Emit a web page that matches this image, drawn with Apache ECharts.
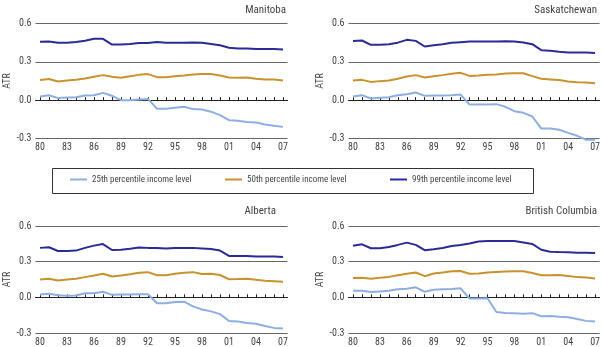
<!DOCTYPE html>
<html>
<head>
<meta charset="utf-8">
<script src="https://cdn.jsdelivr.net/npm/echarts@6/dist/echarts.min.js"></script>
<style>
html,body{margin:0;padding:0;background:#fff;}
#c{width:603px;height:347px;}
</style>
</head>
<body>
<div id="c"></div>
<script>
var years = [1980,1981,1982,1983,1984,1985,1986,1987,1988,1989,1990,1991,1992,1993,1994,1995,1996,1997,1998,1999,2000,2001,2002,2003,2004,2005,2006,2007];
var xTickLabels = [1980,1983,1986,1989,1992,1995,1998,2001,2004,2007];
var yTicks = [-0.3, 0.0, 0.3, 0.6];
var provinces = ['Manitoba','Saskatchewan','Alberta','British Columbia'];
var seriesNames = ['25th percentile income level','50th percentile income level','99th percentile income level'];

var manitoba25 = [0.029,0.039,0.016,0.021,0.023,0.037,0.039,0.057,0.034,0.000,0.000,0.005,0.010,-0.068,-0.068,-0.060,-0.052,-0.070,-0.073,-0.090,-0.117,-0.157,-0.162,-0.170,-0.175,-0.190,-0.200,-0.209];
var manitoba50 = [0.157,0.165,0.146,0.154,0.160,0.170,0.183,0.196,0.183,0.175,0.188,0.198,0.204,0.180,0.180,0.188,0.193,0.200,0.204,0.204,0.193,0.177,0.175,0.178,0.167,0.162,0.162,0.154];
var manitoba99 = [0.457,0.460,0.450,0.450,0.455,0.465,0.480,0.480,0.435,0.435,0.440,0.447,0.447,0.455,0.450,0.450,0.450,0.452,0.450,0.440,0.430,0.410,0.405,0.405,0.400,0.400,0.400,0.397];

var sask25 = [0.029,0.039,0.013,0.018,0.023,0.039,0.047,0.060,0.034,0.037,0.037,0.039,0.044,-0.034,-0.034,-0.034,-0.031,-0.052,-0.086,-0.099,-0.128,-0.222,-0.222,-0.232,-0.256,-0.279,-0.310,-0.310];
var sask50 = [0.154,0.159,0.143,0.149,0.154,0.167,0.185,0.196,0.177,0.188,0.196,0.206,0.214,0.190,0.193,0.198,0.200,0.209,0.211,0.211,0.188,0.167,0.162,0.157,0.146,0.141,0.138,0.133];
var sask99 = [0.464,0.467,0.433,0.433,0.438,0.450,0.472,0.464,0.420,0.430,0.438,0.449,0.454,0.459,0.459,0.459,0.459,0.462,0.459,0.451,0.438,0.391,0.386,0.378,0.373,0.373,0.373,0.370];

var alberta25 = [0.024,0.031,0.018,0.013,0.016,0.034,0.034,0.047,0.021,0.024,0.024,0.026,0.026,-0.050,-0.050,-0.039,-0.037,-0.076,-0.102,-0.118,-0.141,-0.199,-0.204,-0.215,-0.223,-0.241,-0.257,-0.262];
var alberta50 = [0.149,0.157,0.141,0.149,0.157,0.170,0.183,0.199,0.175,0.183,0.194,0.207,0.212,0.186,0.186,0.199,0.207,0.212,0.196,0.199,0.188,0.152,0.154,0.157,0.147,0.139,0.136,0.131];
var alberta99 = [0.416,0.421,0.390,0.390,0.393,0.416,0.435,0.448,0.398,0.400,0.408,0.419,0.416,0.414,0.411,0.414,0.414,0.416,0.411,0.406,0.393,0.348,0.348,0.348,0.343,0.343,0.343,0.340];

var bc25 = [0.055,0.055,0.044,0.050,0.055,0.068,0.073,0.084,0.047,0.063,0.068,0.070,0.076,-0.010,-0.010,-0.008,-0.123,-0.131,-0.133,-0.138,-0.133,-0.159,-0.157,-0.164,-0.167,-0.183,-0.198,-0.204];
var bc50 = [0.162,0.164,0.157,0.164,0.172,0.185,0.198,0.209,0.178,0.201,0.209,0.219,0.222,0.198,0.201,0.209,0.214,0.217,0.219,0.219,0.204,0.185,0.185,0.188,0.180,0.170,0.167,0.159];
var bc99 = [0.433,0.446,0.413,0.413,0.423,0.441,0.460,0.441,0.397,0.405,0.415,0.431,0.441,0.452,0.470,0.473,0.473,0.473,0.473,0.462,0.449,0.400,0.384,0.381,0.379,0.376,0.376,0.373];

var panelData = [
  [manitoba25, manitoba50, manitoba99],
  [sask25, sask50, sask99],
  [alberta25, alberta50, alberta99],
  [bc25, bc50, bc99]
];
var colors = ['#8eaee2', '#c8922f', '#2b2b96'];
var FONT = '"Liberation Sans Narrow", "Roboto Condensed", "Liberation Sans", Arial, sans-serif';

var grids = [
  {left: 35.5, top: 23.5, width: 252, height: 115},
  {left: 348.5, top: 23.5, width: 252, height: 115},
  {left: 35.5, top: 226, width: 252, height: 115},
  {left: 348.5, top: 226, width: 252, height: 115}
];
var titlePos = [
  {right: 317, top: 5},
  {right: 6, top: 5},
  {right: 327, top: 206},
  {right: 6, top: 206}
];

var xAxes = [], yAxes = [], series = [], titles = [];
for (var i = 0; i < 4; i++) {
  titles.push({
    text: provinces[i], right: titlePos[i].right, top: titlePos[i].top, padding: 0,
    textStyle: {fontFamily: FONT, fontSize: 11, fontWeight: 'normal', color: '#444'}
  });
  xAxes.push({
    type: 'value', gridIndex: i, min: 1979.5, max: 2007.5,
    axisLine: {show: true, onZero: true, lineStyle: {color: '#222', width: 1}},
    axisTick: {show: true, inside: true, length: 3, customValues: years, lineStyle: {color: '#222'}},
    axisLabel: {customValues: xTickLabels, margin: 4, fontFamily: FONT, fontSize: 10, color: '#444',
      formatter: function (v) { return String(Math.round(v)).slice(2); }},
    splitLine: {show: false}
  });
  yAxes.push({
    type: 'value', gridIndex: i, min: -0.3, max: 0.6, interval: 0.3,
    name: 'ATR', nameLocation: 'middle', nameGap: 16, nameRotate: 90,
    nameTextStyle: {fontFamily: FONT, fontSize: 10, color: '#444'},
    axisLine: {show: false}, axisTick: {show: false},
    axisLabel: {margin: 4, fontFamily: FONT, fontSize: 10, color: '#444',
      formatter: function (v) { return (Math.round(v * 10) / 10).toFixed(1); }},
    splitLine: {show: true, lineStyle: {color: '#666', width: 1.2}}
  });
  for (var s = 0; s < 3; s++) {
    var pts = [];
    for (var k = 0; k < years.length; k++) pts.push([years[k], panelData[i][s][k]]);
    series.push({
      name: seriesNames[s], type: 'line', xAxisIndex: i, yAxisIndex: i,
      data: pts, showSymbol: false, symbol: 'none', animation: false, clip: false,
      lineStyle: {color: colors[s], width: 2}, itemStyle: {color: colors[s]},
      z: 3
    });
  }
}

var legendLeft = [70, 225, 390];
var legends = [];
for (var j = 0; j < 3; j++) {
  legends.push({
    data: [seriesNames[j]], left: legendLeft[j], top: 175, padding: 0,
    icon: 'rect', itemWidth: 17, itemHeight: 2, itemGap: 5,
    textStyle: {fontFamily: FONT, fontSize: 9, color: '#444', padding: [0, 0, 0, 0]}
  });
}

var chart = echarts.init(document.getElementById('c'), null, {renderer: 'canvas'});
chart.setOption({
  backgroundColor: '#fff',
  animation: false,
  title: titles,
  grid: grids,
  xAxis: xAxes,
  yAxis: yAxes,
  legend: legends,
  series: series,
  graphic: [{
    type: 'rect', shape: {x: 52.5, y: 168.5, width: 481, height: 25},
    style: {fill: 'none', stroke: '#333', lineWidth: 1}, silent: true, z: 0
  }]
});
</script>
</body>
</html>
